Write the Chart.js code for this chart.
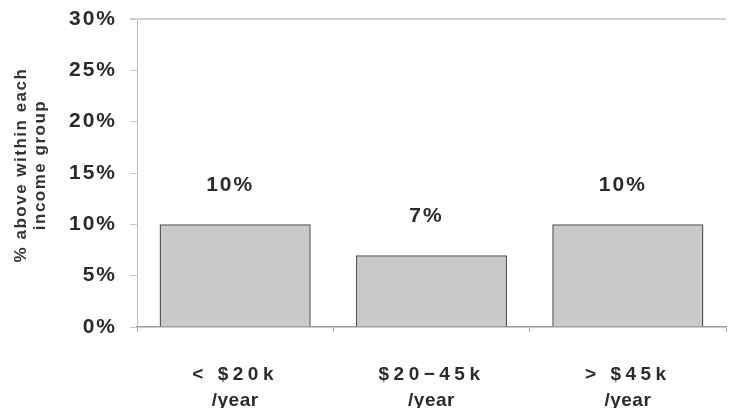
<!DOCTYPE html>
<html>
<head>
<meta charset="utf-8">
<script src="https://cdn.jsdelivr.net/npm/chart.js@4/dist/chart.umd.min.js"></script>
<style>
html,body{margin:0;padding:0;background:#fff;}
#wrap{width:733px;height:408px;}
</style>
</head>
<body>
<div id="wrap"><canvas id="c" width="733" height="408"></canvas></div>
<script>
const categories = [['< $20k', '/year'], ['$20\u221245k', '/year'], ['> $45k', '/year']];
const values = [10, 7, 10];
const valueLabels = ['10%', '7%', '10%'];
const yTicks = [0, 5, 10, 15, 20, 25, 30];
const yTitle = ['% above within each', 'income group'];

const FONT = '"Liberation Sans", Arial, sans-serif';
const TEXT = '#2b2b2b';

function wrapDraw(obj, method, spacingFor, dy) {
  const orig = obj[method];
  obj[method] = function (...args) {
    const ctx = this.ctx;
    ctx.save();
    if (dy) ctx.translate(0, dy);
    const origFill = ctx.fillText;
    ctx.fillText = function (text, x, y, mw) {
      const prev = this.letterSpacing;
      this.letterSpacing = spacingFor(String(text));
      const r = mw === undefined ? origFill.call(this, text, x, y) : origFill.call(this, text, x, y, mw);
      this.letterSpacing = prev;
      return r;
    };
    const r = orig.apply(this, args);
    ctx.fillText = origFill;
    ctx.restore();
    return r;
  };
}

const spacingPlugin = {
  id: 'spacing',
  afterLayout(chart) {
    if (chart._spacingDone) return;
    chart._spacingDone = true;
    wrapDraw(chart.scales.x, 'drawLabels', t => /\d/.test(t) ? '4.5px' : '0.5px', 0);
    wrapDraw(chart.scales.y, 'drawLabels', () => '2px', 0);
    wrapDraw(chart.scales.y, 'drawTitle', () => '1.5px', -8);
  }
};

const valueLabelPlugin = {
  id: 'valueLabels',
  afterDatasetsDraw(chart) {
    const ctx = chart.ctx;
    const meta = chart.getDatasetMeta(0);
    ctx.save();
    ctx.letterSpacing = '2px';
    ctx.font = 'bold 21px ' + FONT;
    ctx.fillStyle = TEXT;
    ctx.textAlign = 'center';
    ctx.textBaseline = 'middle';
    meta.data.forEach((bar, i) => {
      ctx.fillText(valueLabels[i], bar.x - 5, bar.y - 39);
    });
    ctx.restore();
  }
};

new Chart(document.getElementById('c'), {
  type: 'bar',
  data: {
    labels: categories,
    datasets: [{
      data: values,
      backgroundColor: '#c9c9c9',
      borderColor: '#555',
      borderWidth: 1.5,
      barPercentage: 0.77,
      categoryPercentage: 1.0
    }]
  },
  options: {
    responsive: false,
    animation: false,
    devicePixelRatio: 1,
    layout: { padding: { top: 19, right: 7, left: 0, bottom: 0 } },
    plugins: { legend: { display: false }, tooltip: { enabled: false } },
    scales: {
      x: {
        offset: true,
        grid: { display: true, drawOnChartArea: false, tickLength: 5, color: '#aaa', offset: true },
        border: { color: '#999', width: 1.5 },
        ticks: {
          color: TEXT,
          font: { family: FONT, size: 19, weight: 'bold', lineHeight: 1.4 },
          padding: 29,
          maxRotation: 0
        },
        afterFit(scale) { scale.height = 81; scale.paddingLeft = 0; scale.paddingRight = 0; }
      },
      y: {
        min: 0, max: 30,
        afterBuildTicks(scale) { scale.ticks = yTicks.map(v => ({ value: v })); },
        grid: {
          drawOnChartArea: true,
          tickLength: 7,
          color: ctx => (ctx.tick && ctx.tick.value === 30) ? '#d0d0d0' : 'rgba(0,0,0,0)',
          lineWidth: ctx => (ctx.tick && ctx.tick.value === 30) ? 2 : 1,
          tickColor: '#ccc'
        },
        border: { color: '#bbb', width: 1 },
        ticks: {
          color: TEXT,
          font: { family: FONT, size: 21, weight: 'bold' },
          padding: 13,
          callback: v => v + '%'
        },
        title: {
          display: true,
          text: yTitle,
          color: '#333',
          font: { family: FONT, size: 17, weight: 'bold', lineHeight: 1.12 },
          padding: { top: 12, bottom: 0 }
        },
        afterFit(scale) { scale.width = 137; scale.paddingTop = 0; scale.paddingBottom = 0; }
      }
    }
  },
  plugins: [spacingPlugin, valueLabelPlugin]
});
</script>
</body>
</html>
